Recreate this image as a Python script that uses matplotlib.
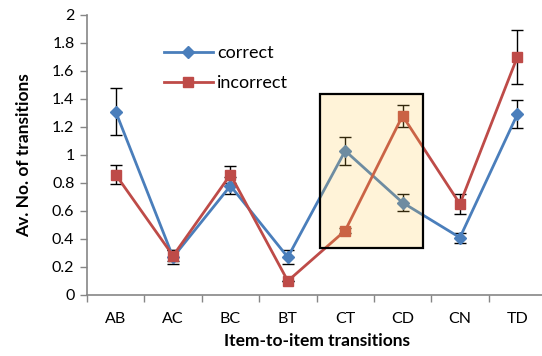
import matplotlib
matplotlib.use("Agg")
import matplotlib.pyplot as plt
from matplotlib.patches import Rectangle
from matplotlib.lines import Line2D

categories = ["AB", "AC", "BC", "BT", "CT", "CD", "CN", "TD"]
correct = [1.31, 0.27, 0.78, 0.27, 1.03, 0.66, 0.41, 1.29]
correct_err = [0.17, 0.05, 0.06, 0.05, 0.10, 0.06, 0.035, 0.10]
incorrect = [0.86, 0.28, 0.86, 0.10, 0.46, 1.28, 0.65, 1.70]
incorrect_err = [0.07, 0.04, 0.06, 0.0, 0.02, 0.08, 0.07, 0.19]
yticks = [0, 0.2, 0.4, 0.6, 0.8, 1, 1.2, 1.4, 1.6, 1.8, 2]
ytick_labels = ["0", "0.2", "0.4", "0.6", "0.8", "1", "1.2", "1.4", "1.6", "1.8", "2"]

plt.rcParams['font.family'] = ['Lato', 'DejaVu Sans']

W, H = 542, 356
fig = plt.figure(figsize=(W / 100, H / 100), dpi=100)
ax = fig.add_axes([87 / W, (H - 295) / H, (546 - 87) / W, (295 - 15) / H])

x = list(range(len(categories)))
blue = "#4A7EBB"
red = "#BE4B48"

ax.errorbar(x, correct, yerr=correct_err, color=blue, lw=2, marker="D", ms=6.5,
            ecolor="black", elinewidth=1, capsize=4, capthick=1, zorder=3)
ax.errorbar(x, incorrect, yerr=incorrect_err, color=red, lw=2, marker="s", ms=6.5,
            ecolor="black", elinewidth=1, capsize=4, capthick=1, zorder=3)

rect = Rectangle((3.56, 0.336), 1.79, 1.10, facecolor=(1, 0.78, 0.24, 0.2),
                 edgecolor="black", lw=1.6, zorder=4)
ax.add_patch(rect)

ax.set_xlim(-0.5, 7.5)
ax.set_ylim(0, 2)
ax.set_yticks(yticks)
ax.set_yticklabels(ytick_labels)
ax.set_xticks(x)
ax.set_xticklabels(categories)
ax.set_xticks([i + 0.5 for i in range(-1, 8)], minor=True)
ax.tick_params(axis="x", which="major", length=0, pad=12, labelsize=11.5)
ax.tick_params(axis="x", which="minor", length=5, color="#868686", width=1)
ax.tick_params(axis="y", length=5, color="#868686", width=1, labelsize=11.5, pad=4)

for s in ["top", "right"]:
    ax.spines[s].set_visible(False)
for s in ["left", "bottom"]:
    ax.spines[s].set_color("#868686")
    ax.spines[s].set_linewidth(1.2)

ax.set_ylabel("Av. No. of transitions", fontsize=12.5, fontweight="bold", labelpad=14)
ax.set_xlabel("Item-to-item transitions", fontsize=12.5, fontweight="bold", labelpad=5)

handles = [Line2D([], [], color=blue, lw=2, marker="D", ms=6.5),
           Line2D([], [], color=red, lw=2, marker="s", ms=6.5)]
ax.legend(handles, ["correct", "incorrect"], loc="upper left",
          bbox_to_anchor=(164 / W, (H - 45) / H), bbox_transform=fig.transFigure,
          frameon=False, fontsize=13, handlelength=2.7, handletextpad=0.25, labelspacing=0.8,
          borderpad=0, borderaxespad=0)

fig.savefig("out.png", dpi=100)
